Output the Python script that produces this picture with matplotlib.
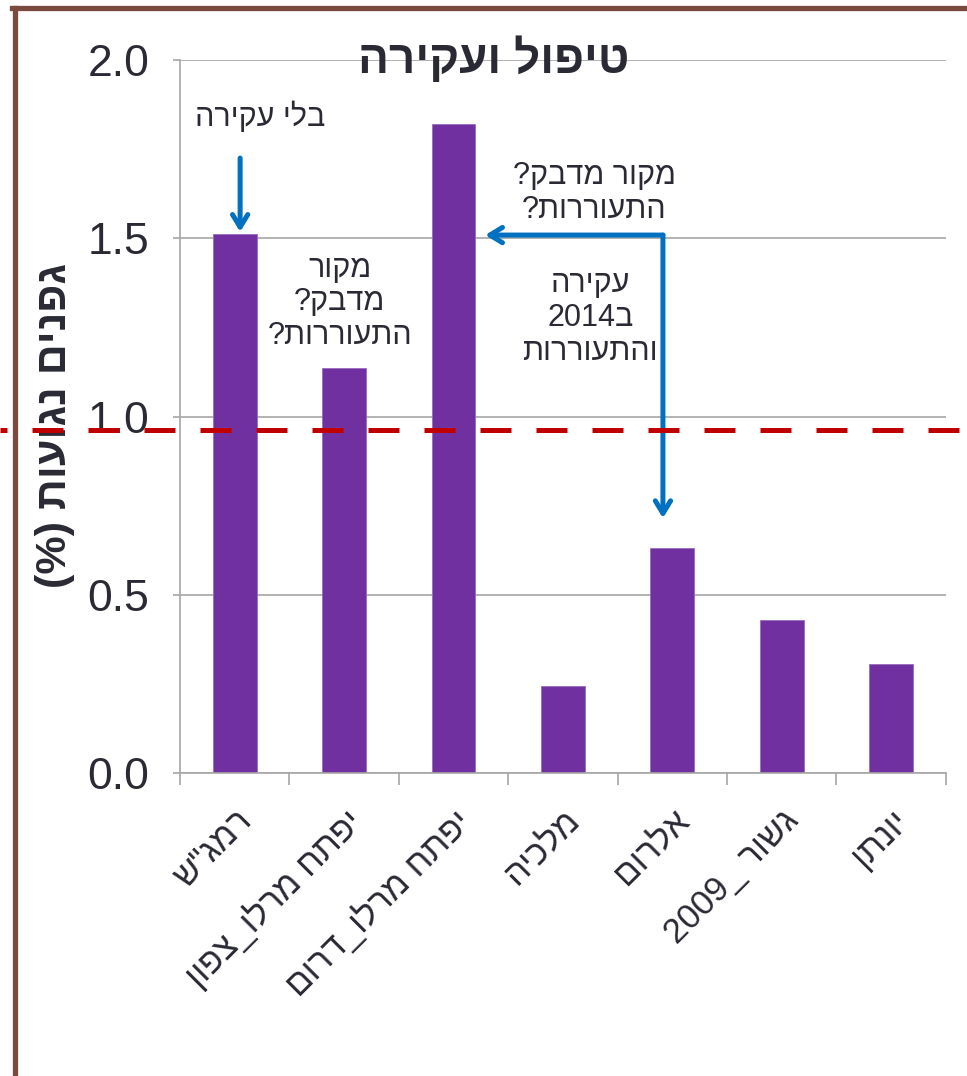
import numpy as np
import matplotlib
matplotlib.use("Agg")
import matplotlib.pyplot as plt
from matplotlib.lines import Line2D

plt.rcParams['font.family'] = ['Liberation Sans', 'DejaVu Sans']

# data (labels already in visual order, matplotlib has no bidi)
categories = ['ש"גמר', 'ןופצ_ולרמ חתפי', 'םורד_ולרמ חתפי', 'היכלמ', 'םורלא', '2009_ רושג', 'ןתנוי']
infected = [1.512, 1.136, 1.820, 0.244, 0.631, 0.429, 0.306]
threshold = 0.962
title_txt = 'הריקעו לופיט'
ylabel_txt = '(%) תועוגנ םינפג'
note_no_uproot = 'הריקע ילב'
note_source = 'רוקמ\n?קבדמ\n?תוררועתה'
note_source2 = '?קבדמ רוקמ\n?תוררועתה'
note_uproot = 'הריקע\n2014ב\nתוררועתהו'

txt_col = '#2a2a35'
grid_col = '#a6a6a6'
blue = '#0070C0'

fig = plt.figure(figsize=(9.67, 10.76), dpi=100)
ax = fig.add_axes([0.1861, 0.2816, 0.978 - 0.1861, 0.9442 - 0.2816])

x = np.arange(len(categories))
ax.bar(x, infected, width=0.4, color='#7030A0', edgecolor='#9a6cc0', linewidth=0.6, zorder=2)

ax.set_xlim(-0.5, len(categories) - 0.5)
ax.set_ylim(0, 2.0)
ax.set_yticks([0, 0.5, 1.0, 1.5, 2.0])
ax.set_yticklabels(['0.0', '0.5', '1.0', '1.5', '2.0'])
ax.yaxis.grid(True, color=grid_col, linewidth=1.2, zorder=0)
ax.set_axisbelow(True)

for s in ['top', 'right']:
    ax.spines[s].set_visible(False)
for s in ['left', 'bottom']:
    ax.spines[s].set_color(grid_col)
    ax.spines[s].set_linewidth(1.2)

ax.tick_params(axis='y', labelsize=32, labelcolor=txt_col, color=grid_col, length=5, width=1.2, pad=17)
ax.set_xticks(x)
ax.set_xticklabels(categories, rotation=45, ha='right', va='top', rotation_mode='anchor',
                   fontsize=25, color=txt_col)
ax.tick_params(axis='x', which='major', length=0, pad=22)
ax.set_xticks(np.arange(-0.5, len(categories)), minor=True)
ax.tick_params(axis='x', which='minor', length=8.5, width=1.2, color=grid_col)

ax.set_ylabel(ylabel_txt, fontsize=31, fontweight='bold', color=txt_col)
ax.yaxis.set_label_coords(-0.137, 0.487)
ax.text(0.41, 1.0, title_txt, transform=ax.transAxes, ha='center', va='center',
        fontsize=33, fontweight='bold', color=txt_col, zorder=5)

# threshold line across the whole slide
ax.axhline(threshold, xmin=-0.235, xmax=1.03, clip_on=False, color='#C00000',
           linewidth=3.6, linestyle=(4.8, (6.2, 5.0)), zorder=4)

# annotations
ax.text(0.23, 1.84, note_no_uproot, ha='center', va='center', fontsize=22, color=txt_col)
ax.text(0.96, 1.32, note_source, ha='center', va='center', fontsize=22, color=txt_col,
        linespacing=1.16)
ax.text(3.29, 1.627, note_source2, ha='center', va='center', fontsize=22, color=txt_col,
        linespacing=1.16)
ax.text(3.25, 1.276, note_uproot, ha='center', va='center', fontsize=22, color=txt_col,
        linespacing=1.16)

aprops = dict(arrowstyle='->,head_length=0.9,head_width=0.55', color=blue, lw=3.6,
              shrinkA=0, shrinkB=0)
ax.annotate('', xy=(0.05, 1.518), xytext=(0.05, 1.725), arrowprops=aprops)
ax.annotate('', xy=(2.29, 1.509), xytext=(3.915, 1.509), arrowprops=aprops)
ax.annotate('', xy=(3.915, 0.715), xytext=(3.915, 1.509), arrowprops=aprops)

# slide frame
fig.add_artist(Line2D([12 / 967, 1], [1 - 7.5 / 1076] * 2, color='#7B4A3E', lw=3.8))
fig.add_artist(Line2D([14.5 / 967] * 2, [0, 1 - 7.5 / 1076], color='#7B4A3E', lw=3.8))

fig.savefig('out.png', dpi=100)
